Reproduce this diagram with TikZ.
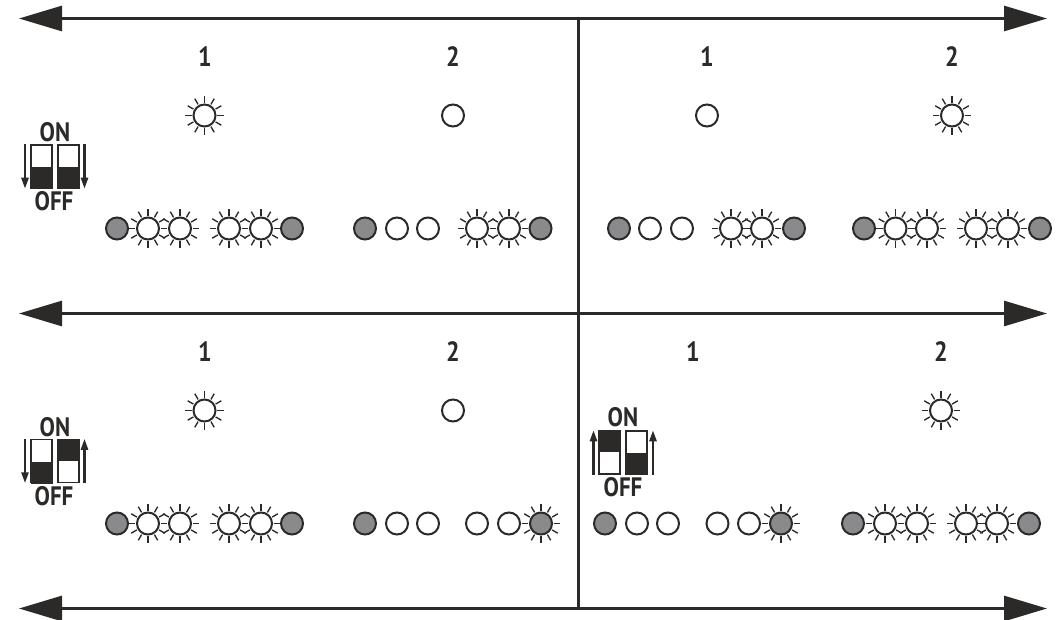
\documentclass[tikz,border=0pt]{standalone}
\usepackage{fontspec}
\setmainfont{PT Sans}
\usetikzlibrary{arrows.meta}
\definecolor{ink}{HTML}{2B2A29}
\definecolor{dim}{HTML}{8A8A8D}
\newcommand{\ledrays}[1]{\foreach \a in {0,30,...,330} \draw[ink, line width=1.35pt] (#1.center) ++(\a:12.8) -- ++(\a:6.6);}
\newcommand{\tall}[1]{\scalebox{1}[1.16]{#1}}

\begin{document}
\begin{tikzpicture}[x=1pt, y=-1pt,
      led/.style={circle, draw=ink, fill=white, line width=2pt, minimum size=22pt, inner sep=0pt},
      ledgray/.style={led, fill=dim},
      num/.style={font=\fontsize{24}{24}\selectfont\bfseries, text=ink, inner sep=0pt},
      swlabel/.style={font=\fontsize{23}{23}\selectfont\bfseries, text=ink, inner sep=0pt},
      swbox/.style={draw=ink, fill=white, line width=1.5pt, minimum width=21pt, minimum height=43pt, inner sep=0pt},
      swfill/.style={fill=ink, draw=ink, minimum width=21pt, minimum height=21pt, inner sep=0pt},
      bus/.style={{Triangle[length=43pt,width=25pt]}-{Triangle[length=43pt,width=25pt]}, ink, line width=2.8pt},
      swarr/.style={-{Triangle[length=11pt,width=7pt]}, ink, line width=2.4pt}]
    \useasboundingbox (0,0) rectangle (1061,620);
    \coordinate (l1) at (19,18.5); \coordinate (r1) at (1047,18.5);
    \coordinate (l2) at (19,313.5); \coordinate (r2) at (1047,313.5);
    \coordinate (l3) at (19,608.5); \coordinate (r3) at (1047,608.5);
    \coordinate (top) at (578.3,18.5); \coordinate (bot) at (578.3,608.5);
    \draw[bus] (l1) -- (r1); \draw[bus] (l2) -- (r2); \draw[bus] (l3) -- (r3);
    \draw[ink, line width=2.8pt] (top) -- (bot);
    \foreach \n/\x/\y/\t in {na/205/57/1, nb/453/57/2, nc/707/57/1, nd/952/57/2,
                             ne/205/352/1, nf/453/352/2, ng/693/352/1, nh/941/352/2}
      \node[num] (\n) at (\x,\y) {\tall{\t}};
    % lit, white
    \foreach \n/\x/\y in {ba/204.5/115.5, bb/952/115.5, bc/204.5/410.5, bd/941/410.5,
        a2/148/228.5, a3/180/228.5, a4/229/228.5, a5/261/228.5,
        b4/477/228.5, b5/509/228.5, c4/731/228.5, c5/762/228.5,
        d2/895.5/228.5, d3/927/228.5, d4/976/228.5, d5/1008/228.5,
        e2/148/523.5, e3/180/523.5, e4/229/523.5, e5/261/523.5,
        h2/885/523.5, h3/917/523.5, h4/966/523.5, h5/997/523.5} {
      \node[led] (\n) at (\x,\y) {};
      \ledrays{\n}
    }
    % unlit, white
    \foreach \n/\x/\y in {bf/453/115.5, bg/707/115.5, bh/453/410.5,
        b2/397/228.5, b3/428/228.5, c2/650/228.5, c3/682/228.5,
        f2/397/523.5, f3/428/523.5, f4/477/523.5, f5/509/523.5,
        g2/637/523.5, g3/668/523.5, g4/717.5/523.5, g5/749/523.5}
      \node[led] (\n) at (\x,\y) {};
    % gray
    \foreach \n/\x/\y in {a1/117/228.5, a6/292/228.5, b1/365/228.5, b6/540.5/228.5,
        c1/619/228.5, c6/794/228.5, d1/864/228.5, d6/1040/228.5,
        e1/117/523.5, e6/292/523.5, f1/365/523.5, g1/605/523.5,
        h1/853/523.5, h6/1029/523.5}
      \node[ledgray] (\n) at (\x,\y) {};
    \foreach \n/\x/\y in {f6/541/523.5, g6/781/523.5} {
      \node[ledgray] (\n) at (\x,\y) {};
      \ledrays{\n}
    }
    % switches
    \foreach \n/\x/\y/\f in {sa/41.5/166.5/south, sb/68.5/166.5/south,
                             sc/41.5/461/south, sd/68.5/461/north,
                             se/609.5/452.5/north, sf/636.5/452.5/south} {
      \node[swbox] (\n) at (\x,\y) {};
      \node[swfill, anchor=\f] (\n f) at (\n.\f) {};
    }
    \node[swlabel] (ona) at (55,132) {\tall{ON}};
    \node[swlabel] (offa) at (54,201) {\tall{OFF}};
    \node[swlabel] (onb) at (55,427) {\tall{ON}};
    \node[swlabel] (offb) at (54,496) {\tall{OFF}};
    \node[swlabel] (onc) at (623,417) {\tall{ON}};
    \node[swlabel] (offc) at (623,487) {\tall{OFF}};
    \draw[swarr] ([xshift=-16.5pt]sa.north) -- ([xshift=-16.5pt]sa.south);
    \draw[swarr] ([xshift=16pt]sb.north) -- ([xshift=16pt]sb.south);
    \draw[swarr] ([xshift=-16.5pt]sc.north) -- ([xshift=-16.5pt]sc.south);
    \draw[swarr] ([xshift=16pt]sd.south) -- ([xshift=16pt]sd.north);
    \draw[swarr] ([xshift=-16pt]se.south) -- ([xshift=-16pt]se.north);
    \draw[swarr] ([xshift=16.5pt]sf.south) -- ([xshift=16.5pt]sf.north);
\end{tikzpicture}
\end{document}
